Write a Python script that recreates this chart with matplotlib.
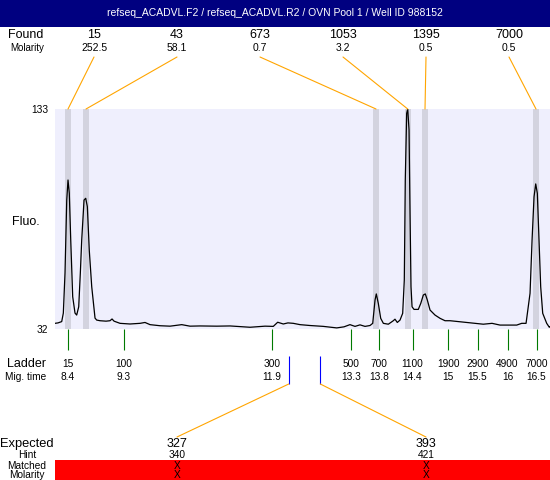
import matplotlib
matplotlib.use('Agg')
import matplotlib.pyplot as plt
from matplotlib.patches import Rectangle, ConnectionPatch

plt.rcParams['font.family'] = ['Liberation Sans', 'DejaVu Sans']

title = 'refseq_ACADVL.F2 / refseq_ACADVL.R2 / OVN Pool 1 / Well ID 988152'

# peaks found in the sample
found_size = ['15', '43', '673', '1053', '1395', '7000']
found_molarity = ['252.5', '58.1', '0.7', '3.2', '0.5', '0.5']
found_time = [8.400, 8.711, 13.725, 14.273, 14.572, 16.491]

# ladder
ladder_size = ['15', '100', '300', '500', '700', '1100', '1900', '2900', '4900', '7000']
ladder_time = [8.400, 9.365, 11.927, 13.301, 13.777, 14.356, 14.970, 15.480, 15.999, 16.500]
ladder_time_label = ['8.4', '9.3', '11.9', '13.3', '13.8', '14.4', '15', '15.5', '16', '16.5']

# expected products
expected_size = ['327', '393']
expected_hint = ['340', '421']
expected_time = [12.216, 12.762]
expected_slot = [1, 4]

# electropherogram trace
trace_time = [8.175, 8.227, 8.291, 8.319, 8.348, 8.378, 8.400, 8.422, 8.447, 8.481,
              8.521, 8.550, 8.585, 8.613, 8.637, 8.677, 8.706, 8.734, 8.768, 8.810,
              8.867, 8.896, 8.953, 9.057, 9.126, 9.161, 9.196, 9.299, 9.472, 9.645,
              9.731, 9.818, 9.991, 10.164, 10.366, 10.509, 10.682, 10.971, 11.201, 11.547,
              11.806, 11.949, 12.025, 12.122, 12.202, 12.295, 12.411, 12.584, 12.814, 13.046,
              13.172, 13.275, 13.362, 13.448, 13.535, 13.621, 13.668, 13.708, 13.730, 13.765,
              13.806, 13.852, 13.938, 14.024, 14.053, 14.093, 14.140, 14.186, 14.214, 14.231,
              14.255, 14.273, 14.296, 14.313, 14.330, 14.348, 14.382, 14.456, 14.498, 14.543,
              14.577, 14.612, 14.659, 14.745, 14.832, 14.918, 15.005, 15.293, 15.437, 15.580,
              15.731, 15.869, 16.158, 16.244, 16.319, 16.388, 16.423, 16.457, 16.486, 16.514,
              16.543, 16.572, 16.607, 16.676, 16.721, 16.733]
trace_fluo = [34.6, 34.8, 35.4, 39.3, 57.7, 91.2, 100.4, 94.4, 72.9, 46.8,
              39.3, 38.4, 42.2, 57.7, 72.9, 91.2, 92.0, 88.2, 68.0, 51.4,
              37.0, 36.1, 35.8, 35.6, 35.8, 36.6, 35.6, 34.6, 34.3, 34.6,
              35.0, 34.0, 33.5, 33.3, 34.0, 33.3, 33.4, 33.3, 33.4, 32.8,
              33.3, 33.2, 35.1, 34.3, 34.8, 34.6, 34.0, 33.6, 33.2, 32.5,
              33.0, 34.0, 33.2, 33.9, 33.2, 33.6, 34.6, 45.3, 48.1, 43.7,
              36.9, 34.6, 34.2, 35.8, 36.5, 35.0, 36.1, 39.2, 54.5, 100.4,
              131.0, 133.0, 123.4, 85.3, 51.4, 42.2, 41.0, 41.0, 43.7, 47.6,
              48.1, 45.3, 40.7, 38.4, 36.9, 35.8, 35.8, 35.0, 34.6, 34.2,
              34.6, 33.8, 33.8, 34.6, 34.6, 48.4, 72.9, 92.7, 98.6, 94.3,
              72.9, 51.4, 39.2, 34.6, 32.8, 33.0]

orange = '#FFA500'
green = '#007A00'


def ya(py):
    # pixel row of the figure -> axes fraction
    return (329 - py) / 220


def xa(px):
    return (px - 55) / 495


fig = plt.figure(figsize=(5.5, 4.8), dpi=100)
ax = fig.add_axes([55 / 550, (480 - 329) / 480, 495 / 550, 220 / 480])
ax.set_facecolor('#EFEFFD')
ax.set_xlim(8.175, 16.733)
ax.set_ylim(32, 133)
ax.set_xticks([])
ax.set_yticks([])
for s in ax.spines.values():
    s.set_visible(False)

for t in found_time:
    ax.axvspan(t - 0.052, t + 0.052, color='#D3D3DF', lw=0)
ax.plot(trace_time, trace_fluo, color='black', lw=0.9)

# title bar
fig.add_artist(Rectangle((0, 1 - 27 / 480), 1, 27 / 480, transform=fig.transFigure,
                         color='#000080', lw=0))
fig.text(0.5, 1 - 13.5 / 480, title, color='white', ha='center', va='center', fontsize=7.5)

slot_px = [94 + 83 * i for i in range(6)]

# found row
ax.text(xa(26), ya(35), 'Found', transform=ax.transAxes, ha='center', va='center', fontsize=9)
ax.text(xa(27), ya(48), 'Molarity', transform=ax.transAxes, ha='center', va='center', fontsize=7)
for i in range(len(found_size)):
    ax.text(xa(slot_px[i]), ya(35), found_size[i], transform=ax.transAxes,
            ha='center', va='center', fontsize=9)
    ax.text(xa(slot_px[i]), ya(48), found_molarity[i], transform=ax.transAxes,
            ha='center', va='center', fontsize=7.5)
    con = ConnectionPatch(xyA=(xa(slot_px[i]), ya(57)), coordsA=ax.transAxes,
                          xyB=(found_time[i], 133), coordsB=ax.transData,
                          color=orange, lw=0.8)
    fig.add_artist(con)

# y labels
ax.text(xa(48), ya(110), '133', transform=ax.transAxes, ha='right', va='center', fontsize=7.3)
ax.text(xa(48), ya(330), '32', transform=ax.transAxes, ha='right', va='center', fontsize=7.3)
ax.text(xa(26), ya(222), 'Fluo.', transform=ax.transAxes, ha='center', va='center', fontsize=9)

# ladder
xt = ax.get_xaxis_transform()
ax.vlines(ladder_time, ya(350), 0, transform=xt, clip_on=False, color=green, lw=0.8)
ax.text(xa(26), ya(364), 'Ladder', transform=ax.transAxes, ha='center', va='center', fontsize=9)
ax.text(xa(26), ya(377), 'Mig. time', transform=ax.transAxes, ha='center', va='center', fontsize=7.3)
for i in range(len(ladder_size)):
    ax.text(ladder_time[i], ya(364), ladder_size[i], transform=xt, ha='center', va='center', fontsize=7.3)
    ax.text(ladder_time[i], ya(377), ladder_time_label[i], transform=xt, ha='center', va='center', fontsize=7.3)

# expected
ax.vlines(expected_time, ya(384), ya(356), transform=xt, clip_on=False, color='#0000FF', lw=0.8)
ax.add_patch(Rectangle((0, ya(480)), 1, ya(460) - ya(480), transform=ax.transAxes,
                       color='#FF0000', lw=0, clip_on=False))
ax.text(xa(27), ya(444), 'Expected', transform=ax.transAxes, ha='center', va='center', fontsize=9.3)
ax.text(xa(27), ya(455), 'Hint', transform=ax.transAxes, ha='center', va='center', fontsize=7.3)
ax.text(xa(27), ya(466), 'Matched', transform=ax.transAxes, ha='center', va='center', fontsize=7.3)
ax.text(xa(27), ya(474.5), 'Molarity', transform=ax.transAxes, ha='center', va='center', fontsize=7.3)
for i in range(len(expected_size)):
    sx = xa(slot_px[expected_slot[i]])
    con = ConnectionPatch(xyA=(expected_time[i], ya(384)), coordsA=xt,
                          xyB=(sx, ya(437)), coordsB=ax.transAxes, color=orange, lw=0.8)
    fig.add_artist(con)
    ax.text(sx, ya(444), expected_size[i], transform=ax.transAxes, ha='center', va='center', fontsize=9)
    ax.text(sx, ya(455), expected_hint[i], transform=ax.transAxes, ha='center', va='center', fontsize=7.3)
    ax.text(sx, ya(466), 'X', transform=ax.transAxes, ha='center', va='center', fontsize=7.3)
    ax.text(sx, ya(474.5), 'X', transform=ax.transAxes, ha='center', va='center', fontsize=7.3)

fig.savefig('out.png', dpi=100)
